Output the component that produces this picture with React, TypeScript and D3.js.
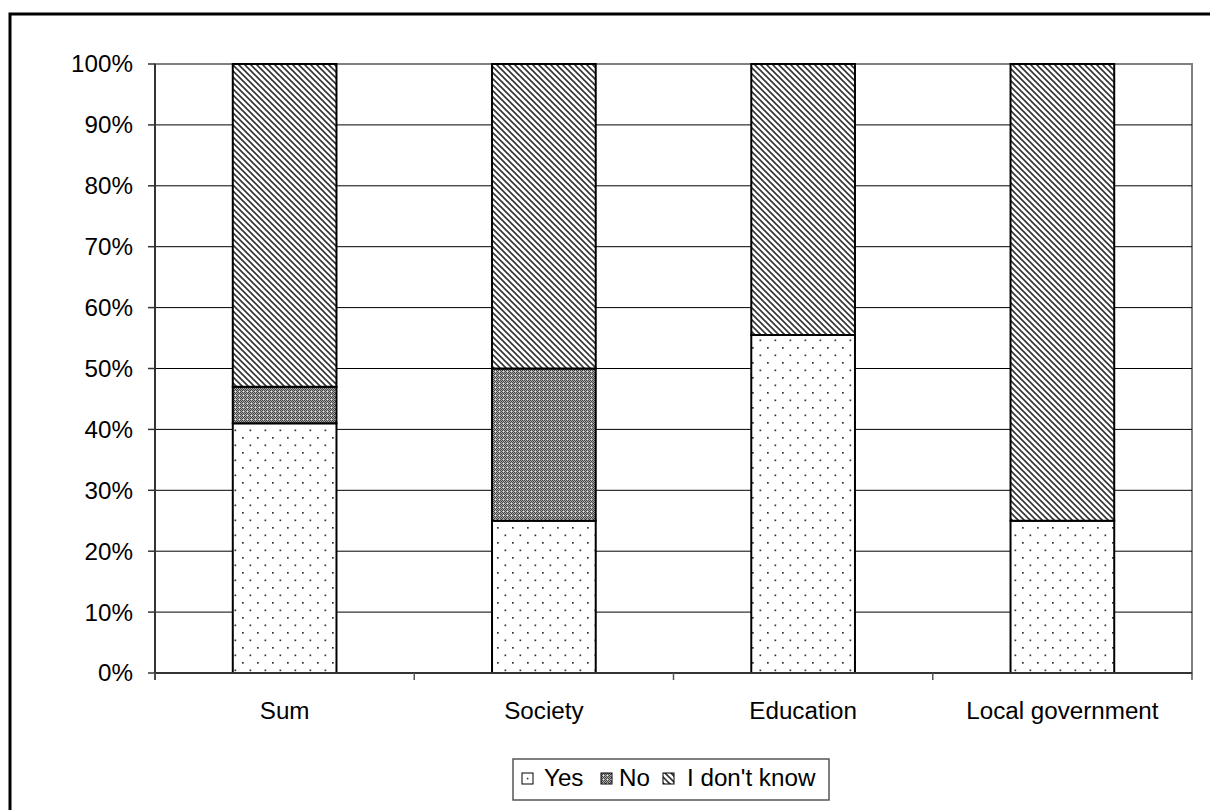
import React from "react";
import * as d3 from "d3";

const categories = ["Sum", "Society", "Education", "Local government"];
const seriesNames = ["Yes", "No", "I don't know"];
const yesValues = [41, 25, 55.5, 25];
const noValues = [6, 25, 0, 0];
const dontKnowValues = [53, 50, 44.5, 75];
const yTicks = [0, 10, 20, 30, 40, 50, 60, 70, 80, 90, 100];

const W = 1210;
const H = 810;
const plot = { left: 155, right: 1192, top: 64, bottom: 673 };
const FONT = "'Liberation Sans', Arial, sans-serif";
const SX = 1.03;
const FS = 23.5;

function Txt(props: { x: number; y: number; anchor?: string; dy?: string; children: any }) {
  return (
    <text
      transform={`translate(${props.x},${props.y}) scale(${SX},1)`}
      textAnchor={props.anchor || "start"}
      dy={props.dy}
      fontSize={FS}
      fill="#000"
    >
      {props.children}
    </text>
  );
}

export default function App() {
  const x = d3
    .scaleBand<string>()
    .domain(categories)
    .range([plot.left, plot.right])
    .paddingInner(0.6)
    .paddingOuter(0.3);
  const y = d3.scaleLinear().domain([0, 100]).range([plot.bottom, plot.top]);

  const rows = categories.map((c, i) => ({
    cat: c,
    Yes: yesValues[i],
    No: noValues[i],
    "I don't know": dontKnowValues[i],
  }));
  const stack = d3.stack<any>().keys(seriesNames)(rows);
  const fills = ["url(#pYes)", "url(#pNo)", "url(#pDk)"];

  const step = x.step();
  const boundaries = d3.range(categories.length + 1).map((i) => plot.left + i * step);

  const legendItems = [
    { name: seriesNames[0], fill: fills[0], sx: 522, tx: 544 },
    { name: seriesNames[1], fill: fills[1], sx: 601, tx: 619 },
    { name: seriesNames[2], fill: fills[2], sx: 663, tx: 687 },
  ];

  return (
    <svg
      width={W}
      height={H}
      style={{ position: "absolute", left: 0, top: 0, background: "#fff" }}
      fontFamily={FONT}
    >
      <defs>
        <pattern id="pYes" patternUnits="userSpaceOnUse" width={15} height={15}>
          <rect width={15} height={15} fill="#fff" />
          <rect x={2} y={2} width={1.7} height={1.7} fill="#333" />
          <rect x={9.5} y={9.5} width={1.7} height={1.7} fill="#333" />
        </pattern>
        <pattern id="pNo" patternUnits="userSpaceOnUse" width={4} height={4}>
          <rect width={4} height={4} fill="#a8a8a8" />
          <rect x={0} y={0} width={1} height={1} fill="#444" />
          <rect x={2} y={0} width={1} height={1} fill="#444" />
          <rect x={1} y={1} width={1} height={1} fill="#444" />
          <rect x={3} y={1} width={1} height={1} fill="#444" />
          <rect x={0} y={2} width={1} height={1} fill="#444" />
          <rect x={2} y={2} width={1} height={1} fill="#444" />
          <rect x={1} y={3} width={1} height={1} fill="#444" />
          <rect x={3} y={3} width={1} height={1} fill="#eee" />
        </pattern>
        <pattern id="pDk" patternUnits="userSpaceOnUse" width={6} height={6}>
          <rect width={6} height={6} fill="#fff" />
          <path d="M-1,-1 L7,7 M-1,5 L1,7 M5,-1 L7,1" stroke="#333" strokeWidth={1.6} />
        </pattern>
      </defs>

      <rect x={0} y={0} width={W} height={H} fill="#fff" />
      {/* outer chart border */}
      <rect x={10} y={14} width={1240} height={840} fill="none" stroke="#000" strokeWidth={3} />

      {/* plot area border */}
      <rect
        x={plot.left}
        y={plot.top}
        width={plot.right - plot.left}
        height={plot.bottom - plot.top}
        fill="none"
        stroke="#808080"
        strokeWidth={2}
      />

      {/* gridlines */}
      {yTicks
        .filter((t) => t > 0)
        .map((t) => (
          <line
            key={"g" + t}
            x1={plot.left}
            x2={plot.right}
            y1={y(t)}
            y2={y(t)}
            stroke={t === 100 ? "#808080" : "#000"}
            strokeWidth={t === 100 ? 2 : 1}
          />
        ))}

      {/* bars */}
      {stack.map((layer, si) =>
        layer.map((d, i) => {
          const h = y(d[0]) - y(d[1]);
          if (h <= 0) return null;
          return (
            <rect
              key={si + "-" + i}
              x={x(categories[i])}
              y={y(d[1])}
              width={x.bandwidth()}
              height={h}
              fill={fills[si]}
              stroke="#000"
              strokeWidth={2}
            />
          );
        })
      )}

      {/* y axis */}
      <line x1={plot.left} x2={plot.left} y1={plot.top} y2={plot.bottom + 7} stroke="#333" strokeWidth={2} />
      {yTicks.map((t) => (
        <g key={"t" + t}>
          <line x1={plot.left - 7} x2={plot.left} y1={y(t)} y2={y(t)} stroke="#333" strokeWidth={1.5} />
          <Txt x={133} y={y(t)} dy="0.36em" anchor="end">
            {t + "%"}
          </Txt>
        </g>
      ))}

      {/* x axis */}
      <line x1={plot.left} x2={plot.right} y1={plot.bottom} y2={plot.bottom} stroke="#333" strokeWidth={2} />
      {boundaries.map((bx, i) => (
        <line key={"xt" + i} x1={bx} x2={bx} y1={plot.bottom} y2={plot.bottom + 7} stroke="#555" strokeWidth={1.5} />
      ))}
      {categories.map((c) => (
        <Txt key={c} x={(x(c) as number) + x.bandwidth() / 2} y={719} anchor="middle">
          {c}
        </Txt>
      ))}

      {/* legend */}
      <rect x={513} y={759} width={316} height={41} fill="#fff" stroke="#555" strokeWidth={1.5} />
      {legendItems.map((it) => (
        <g key={it.name}>
          <rect
            x={it.sx}
            y={773}
            width={11}
            height={11}
            fill={it.name === "Yes" ? "#fff" : it.fill}
            stroke="#000"
            strokeWidth={1}
          />
          {it.name === "Yes" && <rect x={it.sx + 4.8} y={777.8} width={1.6} height={1.6} fill="#333" />}
          <Txt x={it.tx} y={786}>
            {it.name}
          </Txt>
        </g>
      ))}
    </svg>
  );
}
